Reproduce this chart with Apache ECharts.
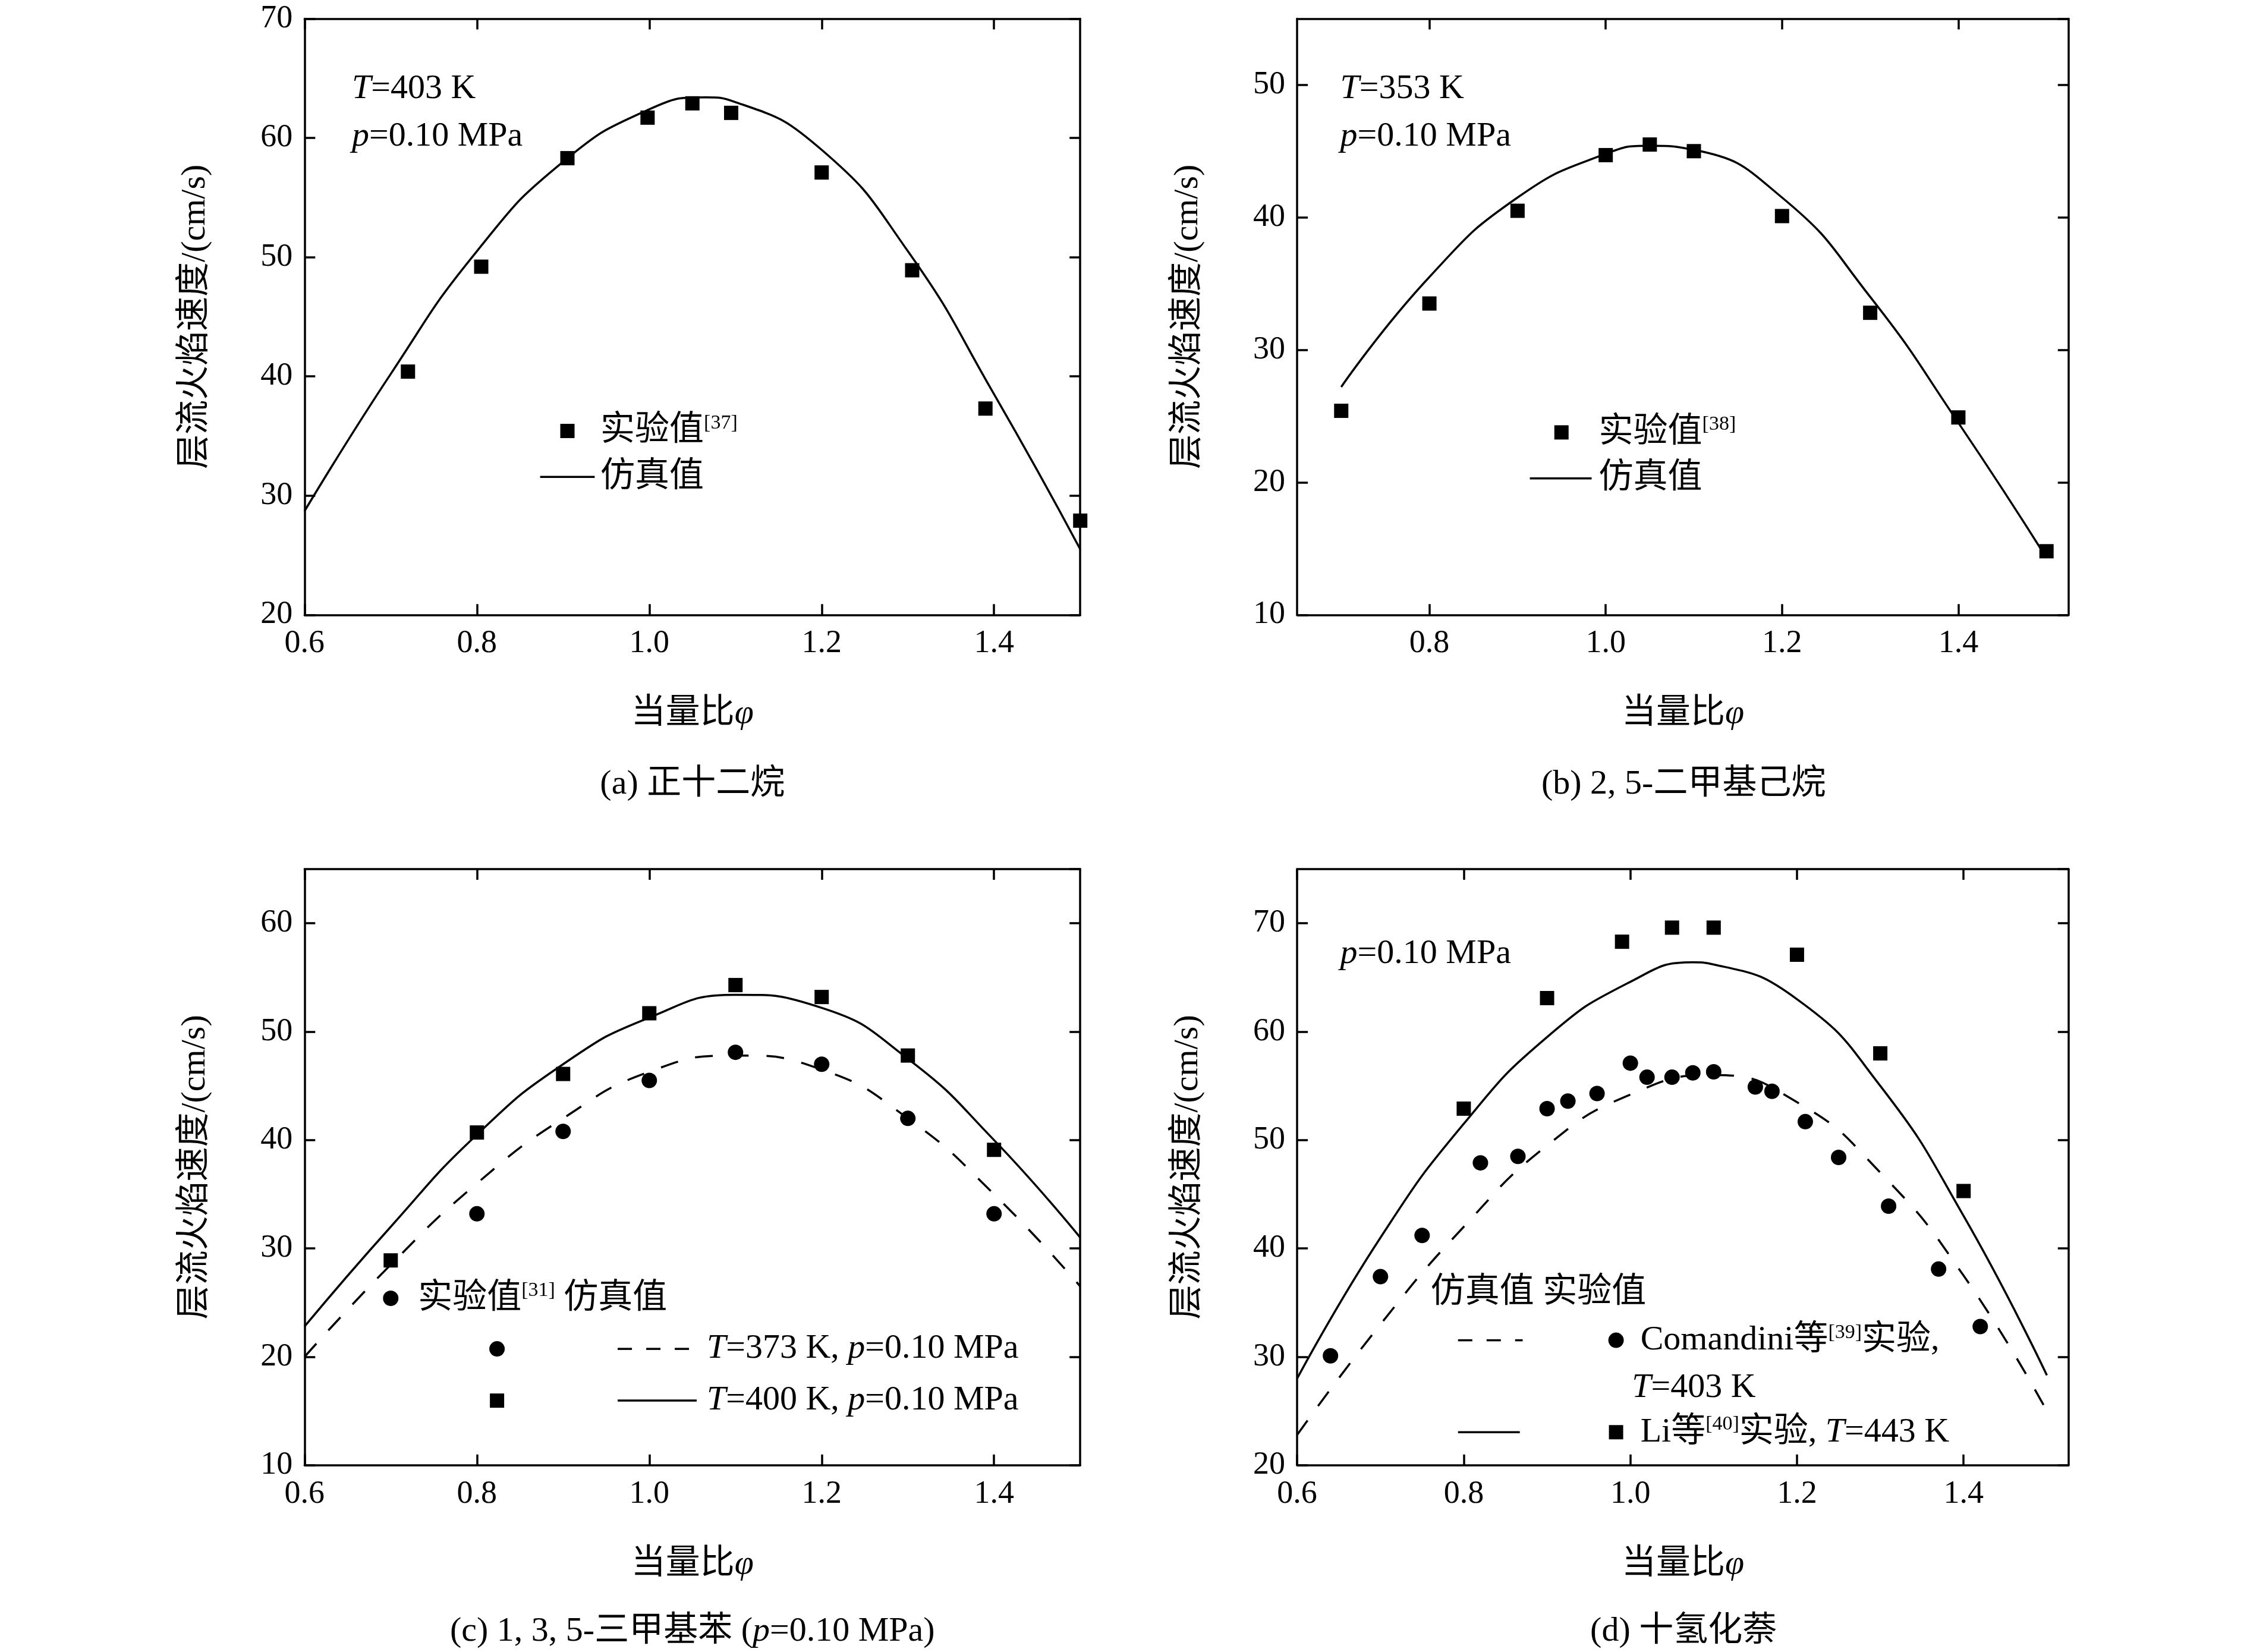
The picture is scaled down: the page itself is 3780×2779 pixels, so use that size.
<!DOCTYPE html>
<html><head><meta charset="utf-8">
<script src="https://cdn.jsdelivr.net/npm/echarts@6/dist/echarts.min.js"></script>
<style>html,body{margin:0;background:#fff}#c{width:3780px;height:2779px}</style>
</head><body><div id="c"></div>
<script>
// 缩放：按参考图 1150 高的坐标换算
var S = 2779 / 1150;
function P(v) { return v * S; }
var FONT = 'Liberation Serif, Noto Sans CJK SC';

// (a) 正十二烷
var aExp = [[0.72,40.4],[0.805,49.2],[0.905,58.3],[0.998,61.7],[1.05,62.9],[1.095,62.1],[1.2,57.1],[1.305,48.9],[1.39,37.3],[1.5,27.9]];
var aSim = [[0.6,28.7],[0.7,40.2],[0.8,50.5],[0.9,58],[1.0,62.4],[1.065,63.4],[1.1,63.0],[1.2,59],[1.3,50.5],[1.4,38.5],[1.5,25.5]];
// (b) 2,5-二甲基己烷
var bExp = [[0.7,25.4],[0.8,33.5],[0.9,40.5],[1.0,44.7],[1.05,45.5],[1.1,45.0],[1.2,40.1],[1.3,32.8],[1.4,24.9],[1.5,14.8]];
var bSim = [[0.7,27.2],[0.8,35.5],[0.9,41.5],[1.0,44.8],[1.05,45.4],[1.1,45.1],[1.2,41.5],[1.3,34.0],[1.4,24.5],[1.5,14.3]];
// (c) 1,3,5-三甲基苯
var c400Exp = [[0.7,28.9],[0.8,40.7],[0.9,46.1],[1.0,51.7],[1.1,54.3],[1.2,53.2],[1.3,47.8],[1.4,39.1]];
var c373Exp = [[0.7,25.4],[0.8,33.2],[0.9,40.8],[1.0,45.5],[1.1,48.1],[1.2,47.0],[1.3,42.0],[1.4,33.2]];
var c400Sim = [[0.6,22.8],[0.7,32],[0.8,40.5],[0.9,47],[1.0,51.3],[1.1,53.4],[1.2,52.2],[1.3,47.5],[1.4,40],[1.5,31]];
var c373Sim = [[0.6,20],[0.7,28.5],[0.8,36],[0.9,42],[1.0,46.3],[1.1,47.8],[1.2,46.5],[1.3,42],[1.4,35],[1.5,26.5]];
// (d) 十氢化萘
var dLiExp = [[0.8,52.9],[0.9,63.1],[0.99,68.3],[1.05,69.6],[1.1,69.6],[1.2,67.1],[1.3,58],[1.4,45.3]];
var dComExp = [[0.64,30.1],[0.7,37.4],[0.75,41.2],[0.82,47.9],[0.865,48.5],[0.9,52.9],[0.925,53.6],[0.96,54.3],[1.0,57.1],[1.02,55.8],[1.05,55.8],[1.075,56.2],[1.1,56.3],[1.15,54.9],[1.17,54.5],[1.21,51.7],[1.25,48.4],[1.31,43.9],[1.37,38.1],[1.42,32.8]];
var d443Sim = [[0.6,28],[0.7,41],[0.8,51.5],[0.9,59.5],[1.0,64.6],[1.075,66.4],[1.1,66.2],[1.2,63],[1.3,55],[1.4,43],[1.5,28.3]];
var d403Sim = [[0.6,22.8],[0.7,33],[0.8,42],[0.9,49.5],[1.0,54.2],[1.1,56],[1.2,53.5],[1.3,47],[1.4,37.5],[1.5,25]];

var xTicksA = [0.6, 0.8, 1.0, 1.2, 1.4];
var xTicksB = [0.8, 1.0, 1.2, 1.4];

var panels = [
  {box:[212,752,13,428], x:[0.6,1.5], xt:xTicksA, y:[20,70]},
  {box:[903,1440,13,428], x:[0.65,1.525], xt:xTicksB, y:[10,55]},
  {box:[212,752,605,1020], x:[0.6,1.5], xt:xTicksA, y:[10,65]},
  {box:[903,1440,605,1020], x:[0.6,1.526], xt:xTicksA, y:[20,75]}
];

var grid = [], xAxis = [], yAxis = [];
var lineStyle = {color:'#000', width:3.5};
panels.forEach(function (p, i) {
  grid.push({left:P(p.box[0]), width:P(p.box[1]-p.box[0]), top:P(p.box[2]), height:P(p.box[3]-p.box[2])});
  xAxis.push({gridIndex:i, type:'value', min:p.x[0], max:p.x[1],
    axisLine:{lineStyle:lineStyle, onZero:false},
    axisTick:{inside:true, length:18, lineStyle:lineStyle, customValues:p.xt},
    axisLabel:{margin:22, customValues:p.xt, formatter:function(v){ return v.toFixed(1); }, color:'#000', fontSize:54, fontFamily:FONT},
    splitLine:{show:false}, name:'当量比{i|φ}', nameLocation:'middle', nameGap:P(57),
    nameTextStyle:{color:'#000', fontSize:58, fontFamily:FONT, rich:{i:{fontStyle:'italic', fontSize:58, fontFamily:FONT}}}});
  xAxis.push({gridIndex:i, type:'value', position:'top', min:p.x[0], max:p.x[1],
    axisLine:{lineStyle:lineStyle}, axisTick:{inside:true, length:18, lineStyle:lineStyle, customValues:p.xt},
    axisLabel:{show:false}, splitLine:{show:false}});
  yAxis.push({gridIndex:i, type:'value', min:p.y[0], max:p.y[1], interval:10,
    axisLine:{lineStyle:lineStyle, onZero:false}, axisTick:{inside:true, length:18, lineStyle:lineStyle},
    axisLabel:{margin:20, color:'#000', fontSize:54, fontFamily:FONT, showMaxLabel:p.y[1]%10==0},
    splitLine:{show:false}, name:'层流火焰速度/(cm/s)', nameLocation:'middle', nameGap:P(64),
    nameTextStyle:{color:'#000', fontSize:58, fontFamily:FONT}});
  yAxis.push({gridIndex:i, type:'value', position:'right', min:p.y[0], max:p.y[1], interval:10,
    axisLine:{lineStyle:lineStyle}, axisTick:{inside:true, length:18, lineStyle:lineStyle},
    axisLabel:{show:false}, splitLine:{show:false}});
});

function sc(i, data, sym, size) {
  return {type:'scatter', xAxisIndex:2*i, yAxisIndex:2*i, data:data, symbol:sym, symbolSize:size,
    itemStyle:{color:'#000', opacity:1}, silent:true};
}
function ln(i, data, dash) {
  return {type:'line', xAxisIndex:2*i, yAxisIndex:2*i, data:data, smooth:0.5, showSymbol:false,
    lineStyle:{color:'#000', width:3.5, type:dash ? [30,30] : 'solid'}, silent:true};
}

var series = [
  sc(0, aExp, 'rect', 24), ln(0, aSim),
  sc(1, bExp, 'rect', 24), ln(1, bSim),
  sc(2, c400Exp, 'rect', 24), sc(2, c373Exp, 'circle', 26), ln(2, c400Sim), ln(2, c373Sim, true),
  sc(3, dLiExp, 'rect', 24), sc(3, dComExp, 'circle', 26), ln(3, d443Sim), ln(3, d403Sim, true)
];

var rich = {
  i:{fontStyle:'italic', fontSize:58, fontFamily:FONT, color:'#000'},
  s:{fontSize:34, fontFamily:FONT, color:'#000', padding:[0,0,26,0]}
};
function T(x, y, text, align) {
  return {type:'text', x:P(x), y:P(y), style:{text:text, font:'58px ' + FONT, fill:'#000',
    align:align || 'left', verticalAlign:'middle', rich:rich}};
}
function sq(x, y) { return {type:'rect', shape:{x:P(x)-12, y:P(y)-12, width:24, height:24}, style:{fill:'#000'}}; }
function dot(x, y) { return {type:'circle', shape:{cx:P(x), cy:P(y), r:13}, style:{fill:'#000'}}; }
function seg(x1, x2, y, dash) {
  return {type:'line', shape:{x1:P(x1), y1:P(y), x2:P(x2), y2:P(y)},
    style:{stroke:'#000', lineWidth:3.5, lineDash:dash ? [24,24] : null}};
}

var graphic = [
  T(245, 62, '{i|T}=403 K'), T(245, 95, '{i|p}=0.10 MPa'),
  sq(395, 300), T(418, 300, '实验值{s|[37]}'), seg(376, 414, 332), T(418, 332, '仿真值'),
  T(482, 546, '(a) 正十二烷', 'center'),

  T(933, 62, '{i|T}=353 K'), T(933, 95, '{i|p}=0.10 MPa'),
  sq(1087, 301), T(1113, 301, '实验值{s|[38]}'), seg(1065, 1108, 333), T(1113, 333, '仿真值'),
  T(1172, 546, '(b) 2, 5-二甲基己烷', 'center'),

  T(291, 904, '实验值{s|[31]} 仿真值'),
  dot(346, 939), seg(430, 485, 939, true), T(492, 939, '{i|T}=373 K, {i|p}=0.10 MPa'),
  sq(346, 975), seg(430, 485, 975), T(492, 975, '{i|T}=400 K, {i|p}=0.10 MPa'),
  T(482, 1136, '(c) 1, 3, 5-三甲基苯 ({i|p}=0.10 MPa)', 'center'),

  T(933, 664, '{i|p}=0.10 MPa'),
  T(996, 900, '仿真值 实验值'),
  seg(1015, 1060, 933, true), dot(1125, 933), T(1142, 933, 'Comandini等{s|[39]}实验,'),
  T(1136, 966, '{i|T}=403 K'),
  seg(1015, 1058, 997), sq(1125, 997), T(1142, 997, 'Li等{s|[40]}实验, {i|T}=443 K'),
  T(1172, 1136, '(d) 十氢化萘', 'center')
];

var chart = echarts.init(document.getElementById('c'));
chart.setOption({animation:false, backgroundColor:'#fff', textStyle:{fontFamily:FONT},
  grid:grid, xAxis:xAxis, yAxis:yAxis, series:series, graphic:graphic});
</script>
</body></html>
